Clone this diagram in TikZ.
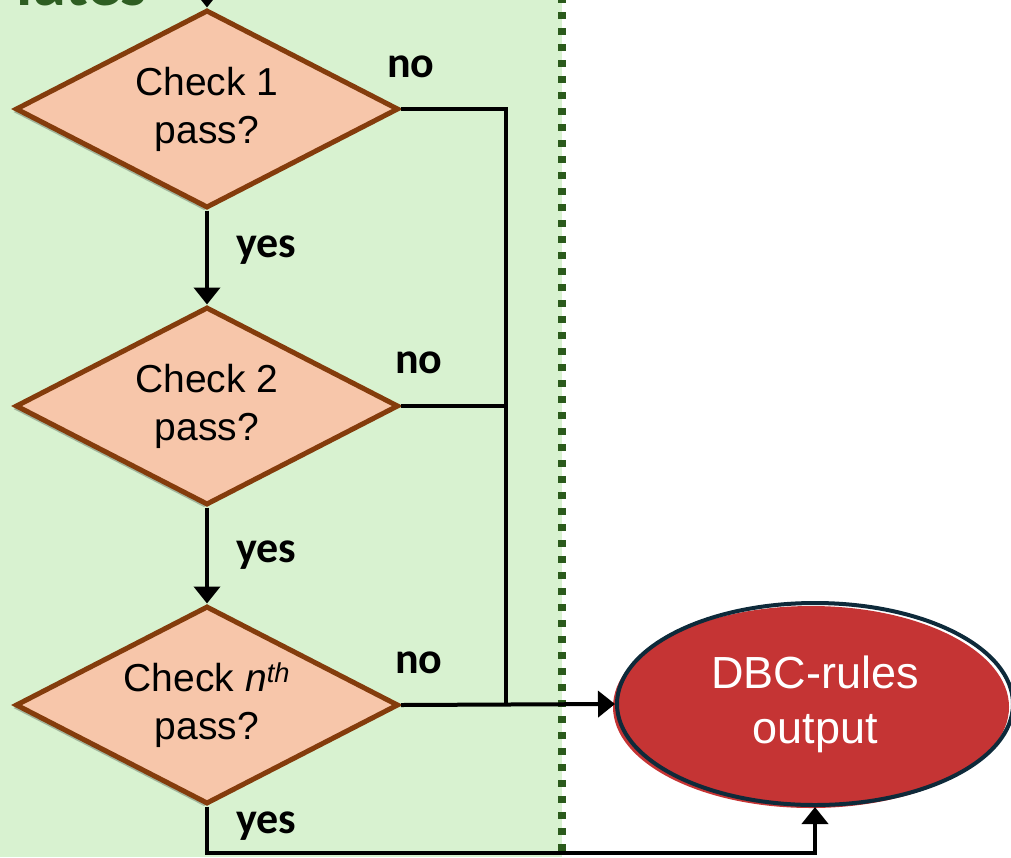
\documentclass[tikz,border=0pt]{standalone}
\usepackage{fontspec}
\setmainfont{Liberation Sans}
\newfontfamily\labelfont{Carlito}
\usetikzlibrary{shapes.geometric,arrows.meta,shadows}

\definecolor{lanegreen}{HTML}{D8F2D0}
\definecolor{dotgreen}{HTML}{2B5A1C}
\definecolor{titlegreen}{HTML}{2E5E22}
\definecolor{checkfill}{HTML}{F7C6AA}
\definecolor{checkedge}{HTML}{843C0C}
\definecolor{outfill}{HTML}{C53434}
\definecolor{outedge}{HTML}{0E2A3A}

\tikzset{
  check/.style={diamond, draw=checkedge, fill=checkfill, line width=5pt,
    inner sep=0pt, aspect=1.93, minimum width=383pt, minimum height=198pt,
    align=center, font=\fontsize{39}{48}\selectfont,
    drop shadow={shadow xshift=-3pt, shadow yshift=-3pt, opacity=0.25, fill=black}},
  outbox/.style={ellipse, draw=outedge, line width=4pt, inner sep=0pt,
    minimum width=396pt, minimum height=202pt, align=center,
    text=white, font=\fontsize{45}{55}\selectfont},
  wire/.style={line width=4pt, draw=black},
  flow/.style={wire, -{Triangle[length=17pt,width=26pt]}},
  answer/.style={anchor=base west, inner sep=0pt,
    font=\labelfont\bfseries\fontsize{44}{44}\selectfont},
  lanedots/.style={draw=dotgreen, line width=8pt, dash pattern=on 7pt off 9pt}
}

\begin{document}
\begin{tikzpicture}[x=1pt, y=-1pt]
  \useasboundingbox (0,0) rectangle (1011,857);

  % swim lane background and its dotted border
  \fill[lanegreen] (0,0) rectangle (562,857);
  \draw[lanedots] (562,-4) -- (562,861);

  % lane title (runs off the top edge)
  \node[anchor=base east, inner sep=0pt, text=titlegreen,
        font=\labelfont\bfseries\fontsize{66}{66}\selectfont] (title) at (147,5) {lates};

  % decision chain
  \node[check] (c1) at (207,109) {Check 1\\pass?};
  \node[check] (c2) at (207,406) {Check 2\\pass?};
  \node[check] (c3) at (207,705) {Check \textit{n}\textsuperscript{\textit{th}}\\pass?};

  % output terminal (fill slightly offset from its outline)
  \fill[outfill] (811,707) ellipse [x radius=198pt, y radius=101pt];
  \node[outbox] (out) at (815,704) {DBC-rules\\output};

  % helper coordinates for the routing
  \coordinate (entry) at (207,-40);
  \coordinate (bus) at (506,0);
  \coordinate (low) at (0,853);

  % connectors
  \draw[flow] (entry) -- (c1.north);
  \draw[flow] (c1.south) -- (c2.north);
  \draw[flow] (c2.south) -- (c3.north);
  \draw[wire] (c1.east) -- (c1.east -| bus) -- (c3.east -| bus);
  \draw[wire] (c2.east) -- (c2.east -| bus);
  \draw[flow] (c3.east) -- (out.west);
  \draw[flow] (c3.south) -- (c3.south |- low) -| (out.south);

  % branch labels
  \node[answer] (no1) at (387,77) {no};
  \node[answer] (no2) at (395,373) {no};
  \node[answer] (no3) at (395,673) {no};
  \node[answer] (yes1) at (236,257) {yes};
  \node[answer] (yes2) at (236,562) {yes};
  \node[answer] (yes3) at (236,833) {yes};
\end{tikzpicture}
\end{document}
